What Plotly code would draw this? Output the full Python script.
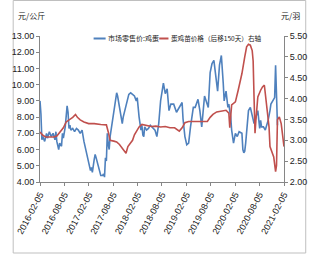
import numpy as np
import pandas as pd
import plotly.graph_objects as go

start = pd.Timestamp("2016-02-05")

# Retail egg price (left axis), sampled by week offset from 2016-02-05
egg_week = [0, 1, 2, 3, 5, 7, 8, 10, 12, 14, 16, 17, 18, 20, 21, 23, 24, 25, 27, 29, 30, 31, 32, 33,
            35, 37, 39, 41, 43, 45, 47, 49, 51, 53, 54, 55, 56, 58, 59, 60, 62, 63, 65, 67, 68, 69,
            70, 71, 72, 73, 74, 75, 76, 78, 80, 82, 83, 85, 87, 88, 89, 91, 93, 95, 97, 99, 101,
            103, 104, 106, 108, 109, 110, 111, 112, 114, 116, 118, 120, 123, 125, 127, 129, 132,
            134, 136, 138, 140, 143, 146, 148, 152, 153, 155, 157, 159, 161, 164, 166, 169, 171,
            173, 176, 180, 182, 184, 186, 188, 190, 192, 194, 196, 197, 199, 201, 202, 204, 205,
            207, 209, 211, 213, 216, 217, 218, 219, 220, 223, 225, 229, 232, 233, 235, 236, 237,
            239, 241, 244, 246, 247, 251, 252, 254, 256, 257, 259, 260, 261]
egg_price = [9.0, 8.2, 6.6, 6.8, 6.5, 7.0, 6.7, 7.1, 6.8, 7.0, 6.6, 7.1, 6.5, 6.0, 6.4, 6.2, 7.0, 6.7,
             7.4, 8.7, 8.3, 7.3, 7.5, 7.2, 7.3, 7.1, 7.3, 7.2, 7.0, 7.2, 6.5, 6.0, 5.5, 5.0, 4.7, 4.9,
             4.6, 5.4, 5.7, 5.5, 5.0, 4.7, 4.4, 4.4, 4.5, 4.3, 5.5, 5.3, 7.0, 6.3, 6.0, 6.8, 7.2, 8.0,
             9.0, 9.5, 9.3, 8.6, 7.9, 7.6, 8.0, 8.5, 8.8, 9.4, 9.5, 9.4, 9.3, 9.0, 9.2, 8.0, 7.2, 7.5,
             6.9, 6.8, 7.4, 7.2, 7.3, 7.5, 7.4, 7.2, 6.8, 7.6, 9.0, 10.1, 9.45, 9.75, 8.4, 8.8, 8.8,
             8.3, 8.5, 8.9, 7.9, 6.8, 6.3, 6.4, 7.4, 8.6, 8.6, 9.1, 8.4, 7.4, 9.3, 8.6, 10.75, 11.3,
             11.5, 10.4, 9.6, 11.2, 11.8, 10.1, 9.0, 9.6, 8.6, 8.8, 8.0, 7.2, 6.4, 7.0, 6.8, 7.1, 7.0,
             6.0, 5.8, 5.9, 6.4, 8.4, 8.6, 7.6, 8.2, 8.4, 7.3, 7.8, 7.4, 7.4, 7.2, 7.8, 8.4, 8.8, 9.2,
             11.2, 7.5]

# Chick price shifted 150 days (right axis)
chick_week = [0, 3, 6, 10, 15, 18, 22, 25, 28, 32, 35, 38, 40, 43, 47, 52, 58, 65, 71, 73, 75, 79, 82,
              85, 88, 90, 92, 94, 97, 99, 101, 104, 106, 109, 114, 119, 124, 129, 134, 139, 144, 147,
              149, 152, 155, 159, 164, 169, 174, 179, 182, 185, 189, 194, 199, 202, 203, 205, 209,
              212, 216, 219, 221, 223, 225, 227, 228, 229, 230, 231, 233, 236, 238, 240, 243, 245,
              246, 250, 252, 253, 254, 256, 258, 261]
chick_price = [3.2, 3.12, 3.08, 3.08, 3.08, 3.1, 3.2, 3.3, 3.44, 3.5, 3.55, 3.62, 3.55, 3.49, 3.44,
               3.4, 3.4, 3.38, 3.37, 3.2, 3.0, 2.98, 2.96, 2.9, 2.82, 2.75, 2.69, 2.85, 2.93, 3.0,
               3.13, 3.25, 3.32, 3.38, 3.35, 3.33, 3.34, 3.32, 3.33, 3.3, 3.3, 3.25, 3.22, 3.3, 3.42,
               3.45, 3.45, 3.44, 3.44, 3.45, 3.55, 3.62, 3.68, 3.7, 3.72, 3.65, 3.3, 3.85, 3.92, 4.2,
               4.6, 5.0, 5.24, 5.3, 5.28, 5.15, 4.9, 4.0, 3.17, 3.5, 4.04, 4.2, 4.28, 4.32, 3.73, 3.32,
               2.85, 2.6, 2.25, 2.4, 3.49, 3.56, 3.4, 2.85]

series_names = ["市场零售价:鸡蛋", "蛋鸡苗价格（后移150天）右轴"]

tick_labels = ["2016-02-05", "2016-08-05", "2017-02-05", "2017-08-05", "2018-02-05", "2018-08-05",
               "2019-02-05", "2019-08-05", "2020-02-05", "2020-08-05", "2021-02-05"]

left_ticks = [4, 5, 6, 7, 8, 9, 10, 11, 12, 13]
right_ticks = [2.0, 2.5, 3.0, 3.5, 4.0, 4.5, 5.0, 5.5]

egg_dates = start + pd.to_timedelta(np.array(egg_week) * 7, unit="D")
chick_dates = start + pd.to_timedelta(np.array(chick_week) * 7, unit="D")

BLUE = "#4F81BD"
RED = "#C0504D"
FONT = "Liberation Sans Narrow, Arial Narrow, Liberation Sans, Arial, sans-serif"
CJK = "Noto Sans CJK SC, sans-serif"

fig = go.Figure()
fig.add_trace(go.Scatter(x=egg_dates, y=egg_price, mode="lines", name=series_names[0],
                         line=dict(color=BLUE, width=1.6), showlegend=False))
fig.add_trace(go.Scatter(x=chick_dates, y=chick_price, mode="lines", name=series_names[1],
                         line=dict(color=RED, width=1.6), yaxis="y2", showlegend=False))

W, H = 319, 255
ml, mr, mt, mb = 30, 25, 36, 73
pw, ph = W - ml - mr, H - mt - mb


def px(x):
    return (x - ml) / pw


def py(y):
    return (H - mb - y) / ph


# custom compact legend (line swatch + label)
legend_y = 38.5
shapes = [
    dict(type="line", xref="paper", yref="paper", x0=px(88), x1=px(101), y0=py(legend_y), y1=py(legend_y),
         line=dict(color=BLUE, width=2)),
    dict(type="line", xref="paper", yref="paper", x0=px(159), x1=px(169), y0=py(legend_y), y1=py(legend_y),
         line=dict(color=RED, width=2)),
    dict(type="rect", xref="paper", yref="paper", x0=px(1), x1=px(W - 1.5), y0=py(H - 2), y1=py(0.5),
         line=dict(color="#BFBFBF", width=1), layer="below"),
]
annotations = [
    dict(text=series_names[0], xref="paper", yref="paper", x=px(101.5), y=py(legend_y),
         xanchor="left", yanchor="middle", showarrow=False,
         font=dict(family=CJK, size=7, color="#222")),
    dict(text=series_names[1], xref="paper", yref="paper", x=px(169.5), y=py(legend_y),
         xanchor="left", yanchor="middle", showarrow=False,
         font=dict(family=CJK, size=6.6, color="#222")),
    dict(text="元/公斤", xref="paper", yref="paper", x=px(4), y=py(15),
         xanchor="left", yanchor="middle", showarrow=False,
         font=dict(family=CJK, size=8, color="#222")),
    dict(text="元/羽", xref="paper", yref="paper", x=px(313), y=py(15),
         xanchor="right", yanchor="middle", showarrow=False,
         font=dict(family=CJK, size=8, color="#222")),
]

fig.update_layout(
    width=W, height=H,
    margin=dict(l=ml, r=mr, t=mt, b=mb, pad=0),
    paper_bgcolor="white", plot_bgcolor="white",
    showlegend=False,
    xaxis=dict(type="date", range=[start, pd.Timestamp("2021-02-05")],
               tickvals=[pd.Timestamp(t) for t in tick_labels], ticktext=tick_labels,
               tickangle=-62, ticks="outside", ticklen=3, tickcolor="#868686",
               showline=True, linecolor="#868686", linewidth=1, showgrid=False, zeroline=False,
               tickfont=dict(family=FONT, size=9, color="#222")),
    yaxis=dict(range=[4, 13], tickvals=left_ticks, tickformat=".2f",
               ticks="outside", ticklen=3, tickcolor="#868686",
               showline=True, linecolor="#868686", linewidth=1, showgrid=False, zeroline=False,
               tickfont=dict(family=FONT, size=9, color="#222")),
    yaxis2=dict(range=[2, 5.5], tickvals=right_ticks, tickformat=".2f", overlaying="y", side="right",
                ticks="outside", ticklen=3, tickcolor="#868686",
                showline=True, linecolor="#868686", linewidth=1, showgrid=False, zeroline=False,
                tickfont=dict(family=FONT, size=9, color="#222")),
    annotations=annotations,
    shapes=shapes,
)

fig.write_html("out.html")
